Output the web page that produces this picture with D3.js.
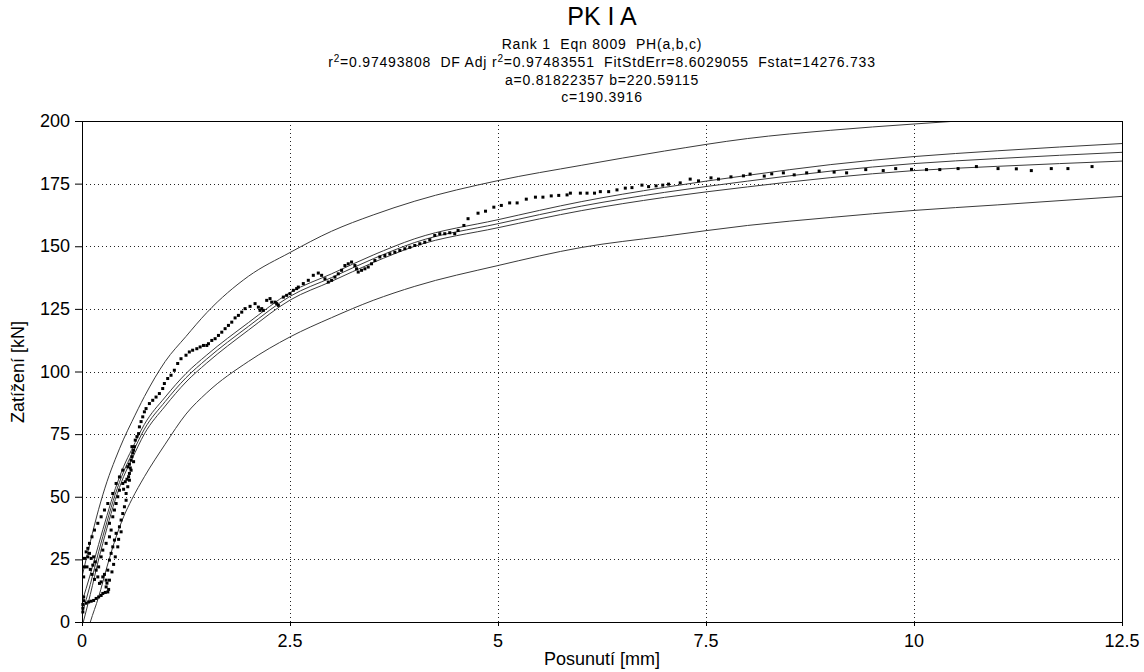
<!DOCTYPE html>
<html lang="cs">
<head>
<meta charset="utf-8">
<title>PK I A</title>
<script src="https://d3js.org/d3.v7.min.js"></script>
<style>
  html, body { margin: 0; padding: 0; background: #fff; overflow: hidden; }
  svg { display: block; }
  text { font-family: "Liberation Sans", Arial, sans-serif; fill: #000; }
</style>
</head>
<body>
<script>

// curve values at these displacements
var curveX    = [0, 0.1, 0.2, 0.3, 0.4, 0.5, 0.6, 0.75, 1, 1.25, 1.5, 2, 2.5, 3, 3.5, 4, 5, 6, 7, 8, 9, 10, 11, 12.5];
var fitY      = [3, 15, 28, 40, 51, 60, 67, 77, 88, 97.5, 105, 118, 130, 137.5, 145, 151.5, 159, 166, 171.5, 176, 180, 183, 185, 187.5];
var confUpY   = [8, 19, 31, 42.5, 53.2, 62, 69, 78.9, 89.8, 99.2, 106.6, 119.5, 131.5, 139, 146.5, 153, 160.6, 167.8, 173.5, 178.3, 182.6, 185.8, 188.1, 191];
var confLoY   = [-2, 11, 25, 37.5, 48.8, 58, 65, 75.1, 86.2, 95.8, 103.4, 116.5, 128.5, 136, 143.5, 150, 157.4, 164.2, 169.5, 173.7, 177.4, 180.2, 181.9, 184];
var predUpY   = [18, 32, 45, 56, 65, 73, 80, 90, 104, 114, 123.5, 138, 147.5, 156, 162.5, 168, 176.2, 182.3, 188, 193, 196.3, 198.8, 201, 204];
var predLoY   = [-12, 0, 10, 22, 33, 42, 49, 58, 71, 83, 91.5, 104, 113.8, 121.5, 128.4, 134, 142.3, 149.5, 154, 158.3, 161.5, 164.3, 166.5, 169.9];

// measured points [displacement mm, load kN]
var measured = [
  [0.01,4],[0.01,5.5],[0.01,7],[0.02,8.5],[0.02,10],
  [0.05,7.5],[0.08,8],[0.11,8.3],[0.14,8.6],[0.17,9.4],[0.2,10],[0.23,10.6],[0.25,11.4],[0.28,11.8],[0.31,12],[0.32,13],
  [0.29,14],[0.3,15.5],[0.29,16.7],[0.25,18],[0.21,15.4],[0.19,18],[0.17,20.7],[0.13,22.7],[0.11,25.4],[0.09,27.4],
  [0.15,17],[0.23,16],[0.27,19],[0.2,22],[0.16,24],[0.12,19],[0.1,21],[0.14,26],[0.07,26],[0.06,22],
  [0.02,18],[0.03,22],[0.03,25.4],[0.05,28],[0.07,29.4],[0.09,31.4],[0.12,34],[0.15,36.7],[0.19,39.4],[0.23,42],
  [0.27,44.7],[0.31,47.3],[0.37,51.3],[0.41,55.3],[0.45,57.9],[0.49,60.6],
  [0.23,26],[0.25,28.7],[0.29,31.4],[0.33,34],[0.35,36.7],[0.33,39.4],[0.37,42],[0.39,44.7],[0.41,47.3],[0.43,50],[0.45,52.6],[0.49,55.3],
  [0.33,16.7],[0.31,20.7],[0.33,24.7],[0.35,27.4],[0.37,30],[0.39,32.7],[0.41,35.4],[0.45,38],[0.47,40.7],[0.49,43.3],
  [0.51,46],[0.53,48.6],[0.53,51.3],[0.55,54],[0.57,56.6],[0.57,59.3],[0.59,60.6],
  [0.36,20],[0.38,23],[0.4,26],[0.43,30],[0.44,33],[0.47,36],
  [0.55,62],[0.57,63],[0.59,64.6],[0.6,66],[0.61,67.5],[0.62,68.6],[0.63,70],[0.6,70],[0.64,72.6],[0.58,61.5],[0.56,58],[0.62,64],[0.54,57],[0.52,56],[0.5,53],
  [0.66,74],[0.68,75.2],[0.69,77.9],[0.71,80],[0.73,81.9],[0.75,83.9],[0.77,85.2],[0.81,87.2],[0.85,88.5],[0.89,89.8],[0.93,91.2],
  [0.97,93.2],[0.99,95.2],[1.03,97.2],[1.07,98.5],[1.11,100.5],[1.15,103.2],[1.19,105.1],[1.25,106.5],[1.29,107.8],[1.33,108.5],[1.38,109.1],
  [1.42,109.8],[1.46,110.4],[1.5,110.4],[1.52,111.1],[1.56,112.4],[1.6,113.1],[1.64,114.4],[1.68,115.7],[1.72,117.1],[1.76,118.4],
  [1.8,119.7],[1.84,121.4],[1.88,122.4],[1.92,123.7],[1.96,125.1],[2.02,126],[2.08,127.1],[2.12,125.7],[2.14,124.4],[2.16,125.1],
  [2.18,124.4],[2.22,128.4],[2.26,129.1],[2.28,127.7],[2.32,127.7],[2.34,127.1],[2.36,126.4],[2.42,129.7],[2.46,130.4],[2.5,131.1],
  [2.54,132.4],[2.58,133.1],[2.6,133.7],[2.66,135.1],[2.72,136.4],[2.78,138.4],[2.84,139.3],[2.88,138.4],[2.92,137],[2.96,135.7],
  [3,136.4],[3.04,137.7],[3.08,139],[3.12,140.4],[3.16,142.3],[3.2,143],[3.24,143.7],[3.28,142.3],[3.3,141],[3.32,139.7],
  [3.36,140.4],[3.4,141],[3.44,141.7],[3.48,143],[3.52,144.3],[3.58,145.7],[3.64,146.3],[3.7,147],[3.76,147.6],[3.82,148.3],
  [3.88,149],[3.94,149.6],[4,150.3],[4.06,151],[4.12,151.6],[4.18,152.6],[4.24,154.3],[4.3,155],[4.36,155],[4.42,155.4],
  [4.48,155],[4.52,156.3],[4.59,158.3],[4.64,161],[4.76,163.2],[4.85,164],[4.95,165.6],
  [5.04,166.3],[5.14,167.3],[5.23,167.3],[5.34,168.8],[5.45,169.6],[5.54,169.6],[5.64,170.1],[5.73,170.3],[5.83,170.5],[5.87,171.2],
  [5.99,171.2],[6.07,171.2],[6.16,171.2],[6.23,171.8],[6.33,171.8],[6.43,172.5],[6.53,173.2],[6.61,173.4],[6.73,174.4],[6.81,173.8],
  [6.9,174.1],[6.98,174.4],[7.05,174.8],[7.19,175.3],[7.31,176.8],[7.41,176.1],[7.56,177.3],[7.65,176.8],[7.8,177.7],[7.95,178.1],
  [8.03,178.8],[8.2,178],[8.29,178.9],[8.43,179.3],[8.56,178.5],[8.71,179.3],[8.86,180],[9.04,179.6],[9.19,179.3],[9.42,180.6],
  [9.63,180.2],[9.78,181],[9.97,180.7],[10.15,180.6],[10.31,180.6],[10.53,181],[10.75,181.8],[11.01,181],[11.23,180.9],[11.41,180.2],
  [11.65,181],[11.85,181],[12.14,181.8]
];

var xTicks = [0, 2.5, 5, 7.5, 10, 12.5];
var yTicks = [0, 25, 50, 75, 100, 125, 150, 175, 200];

var w = 1144, h = 672;
var margin = {top: 121, right: 22, bottom: 50, left: 82};

var svg = d3.select("body").append("svg")
    .attr("width", w)
    .attr("height", h);

// scales in page coordinates
var x = d3.scaleLinear().domain([0, 12.5]).range([margin.left, w - margin.right]);
var y = d3.scaleLinear().domain([0, 200]).range([h - margin.bottom, margin.top]);
var x0 = x(0), x1 = x(12.5), y0 = y(0), y1 = y(200);

var sp2 = "\u00a0\u00a0";

// titles
function headLine(yPos, size) {
  return svg.append("text")
      .attr("x", 602).attr("y", yPos)
      .attr("text-anchor", "middle")
      .style("font-size", size + "px")
      .style("letter-spacing", size < 20 ? "0.8px" : null);
}
headLine(25, 25).text("PK I A");
headLine(49, 14).text("Rank 1" + sp2 + "Eqn 8009" + sp2 + "PH(a,b,c)");
var r2 = headLine(67, 14);
r2.append("tspan").text("r");
r2.append("tspan").attr("dy", -5).style("font-size", "10px").text("2");
r2.append("tspan").attr("dy", 5).text("=0.97493808" + sp2 + "DF Adj r");
r2.append("tspan").attr("dy", -5).style("font-size", "10px").text("2");
r2.append("tspan").attr("dy", 5).text("=0.97483551" + sp2 + "FitStdErr=8.6029055" + sp2 + "Fstat=14276.733");
headLine(85, 14).text("a=0.81822357 b=220.59115");
headLine(102, 14).text("c=190.3916");

svg.append("clipPath").attr("id", "clip")
  .append("rect").attr("x", x0).attr("y", y1).attr("width", x1 - x0).attr("height", y0 - y1);

// dotted grid
svg.selectAll(".vgrid").data(xTicks.slice(1, -1)).enter().append("line")
    .attr("x1", d => Math.round(x(d)) + 0.5).attr("x2", d => Math.round(x(d)) + 0.5)
    .attr("y1", y1).attr("y2", y0)
    .attr("stroke", "#222").attr("stroke-dasharray", "1,3");
svg.selectAll(".hgrid").data(yTicks.slice(1, -1)).enter().append("line")
    .attr("y1", d => Math.round(y(d)) + 0.5).attr("y2", d => Math.round(y(d)) + 0.5)
    .attr("x1", x0).attr("x2", x1)
    .attr("stroke", "#222").attr("stroke-dasharray", "1,3");

// fit, confidence and prediction curves
var line = d3.line()
    .x((d, i) => x(curveX[i]))
    .y(d => y(d))
    .curve(d3.curveMonotoneX);

var curves = svg.append("g").attr("clip-path", "url(#clip)");
[predUpY, confUpY, fitY, confLoY, predLoY].forEach(function (s) {
  curves.append("path")
      .attr("d", line(s))
      .attr("fill", "none")
      .attr("stroke", "#3a3a3a")
      .attr("stroke-width", 1);
});

// measured points
svg.append("g").selectAll("rect")
    .data(measured)
  .enter().append("rect")
    .attr("x", d => x(d[0]) - 1.5)
    .attr("y", d => y(d[1]) - 1.5)
    .attr("width", 3)
    .attr("height", 3)
    .attr("fill", "#000");

// axes: lines and ticks from d3, labels placed on the page
var xAxis = svg.append("g")
    .attr("transform", `translate(0,${y0})`)
    .call(d3.axisBottom(x).tickValues(xTicks).tickFormat("").tickSize(4).tickSizeOuter(0));
var yAxis = svg.append("g")
    .attr("transform", `translate(${x0},0)`)
    .call(d3.axisLeft(y).tickValues(yTicks).tickFormat("").tickSize(7).tickSizeOuter(0));
[xAxis, yAxis].forEach(function (a) {
  a.selectAll("line, path").attr("stroke", "#000");
  a.selectAll("text").remove();
});

svg.append("g").selectAll("text")
    .data(xTicks)
  .enter().append("text")
    .attr("x", d => x(d))
    .attr("y", y0 + 25)
    .attr("text-anchor", "middle")
    .style("font-size", "18px")
    .text(d => d);

svg.append("g").selectAll("text")
    .data(yTicks)
  .enter().append("text")
    .attr("x", x0 - 12)
    .attr("y", d => y(d) + 6)
    .attr("text-anchor", "end")
    .style("font-size", "18px")
    .text(d => d);

// frame top and right
svg.append("line").attr("x1", x0).attr("x2", x1).attr("y1", y1 + 0.5).attr("y2", y1 + 0.5).attr("stroke", "#000");
svg.append("line").attr("x1", x1 + 0.5).attr("x2", x1 + 0.5).attr("y1", y1).attr("y2", y0 + 4).attr("stroke", "#000");

// axis titles
svg.append("text")
    .attr("x", 602).attr("y", 665)
    .attr("text-anchor", "middle")
    .style("font-size", "18px")
    .text("Posunutí [mm]");
svg.append("text")
    .attr("transform", "translate(24,372) rotate(-90)")
    .attr("text-anchor", "middle")
    .style("font-size", "18px")
    .text("Zatížení [kN]");

</script>
</body>
</html>
